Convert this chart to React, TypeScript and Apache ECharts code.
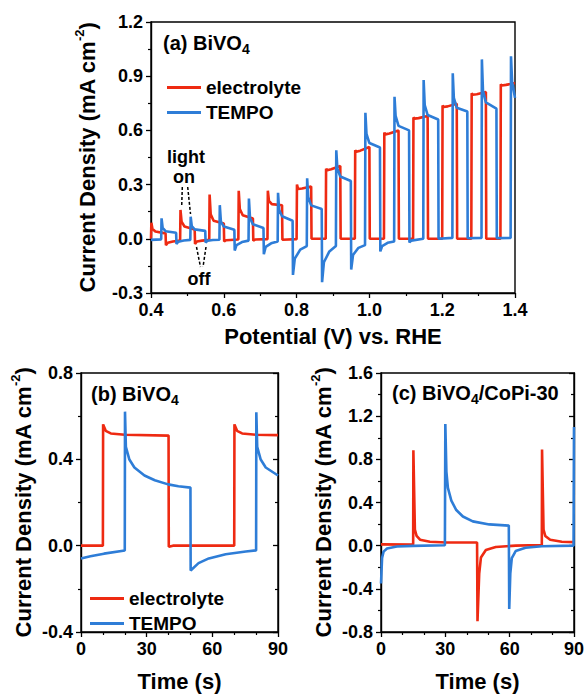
import React, { useEffect, useRef } from 'react';
import * as echarts from 'echarts';

const RED = '#EE2A12';
const BLUE = '#2E7DD7';
const FONT = '"Liberation Sans", Arial, Helvetica, sans-serif';

// ---------- axis ranges / tick labels ----------
const aX = { min: 0.4, max: 1.4, interval: 0.2 };
const aY = { min: -0.3, max: 1.2, interval: 0.3 };
const bY = { min: -0.4, max: 0.8, interval: 0.4 };
const cY = { min: -0.8, max: 1.6, interval: 0.4 };
const tX = { min: 0, max: 90, interval: 30 };

const seriesNames = ['electrolyte', 'TEMPO'];

// ---------- panel (a): chopped LSV, [potential V, current mA cm-2] ----------
const aElectrolyte: number[][] = [
  [0.400, 0.000], [0.401, 0.089], [0.404, 0.055], [0.412, 0.040], [0.440, 0.030],
  [0.441, -0.035], [0.446, -0.022], [0.460, -0.015], [0.480, -0.010],
  [0.481, 0.160], [0.484, 0.095], [0.492, 0.068], [0.520, 0.052],
  [0.521, -0.028], [0.526, -0.015], [0.540, -0.010], [0.560, -0.006],
  [0.561, 0.245], [0.564, 0.135], [0.572, 0.100], [0.600, 0.085],
  [0.601, -0.015], [0.606, -0.008], [0.640, -0.004],
  [0.641, 0.266], [0.644, 0.165], [0.652, 0.130], [0.680, 0.112],
  [0.681, -0.010], [0.686, -0.004], [0.720, -0.002],
  [0.721, 0.266], [0.724, 0.210], [0.732, 0.192], [0.760, 0.186],
  [0.761, -0.005], [0.800, -0.002],
  [0.801, 0.300], [0.804, 0.276], [0.815, 0.278], [0.840, 0.290],
  [0.841, 0.000], [0.880, 0.000],
  [0.881, 0.388], [0.884, 0.379], [0.895, 0.385], [0.920, 0.403],
  [0.921, 0.000], [0.960, 0.000],
  [0.961, 0.490], [0.964, 0.482], [0.975, 0.488], [1.000, 0.508],
  [1.001, 0.000], [1.040, 0.000],
  [1.041, 0.588], [1.044, 0.578], [1.055, 0.583], [1.080, 0.600],
  [1.081, 0.000], [1.120, 0.000],
  [1.121, 0.672], [1.124, 0.665], [1.135, 0.668], [1.160, 0.680],
  [1.161, 0.000], [1.200, 0.000],
  [1.201, 0.738], [1.204, 0.729], [1.215, 0.733], [1.240, 0.748],
  [1.241, 0.000], [1.280, 0.000],
  [1.281, 0.805], [1.284, 0.797], [1.295, 0.800], [1.320, 0.812],
  [1.321, 0.000], [1.360, 0.000],
  [1.361, 0.855], [1.364, 0.849], [1.375, 0.852], [1.400, 0.862],
];

const aTempo: number[][] = [
  [0.400, -0.006], [0.428, -0.003],
  [0.429, 0.113], [0.432, 0.060], [0.440, 0.042], [0.469, 0.033],
  [0.470, -0.028], [0.475, -0.016], [0.490, -0.009], [0.508, -0.006],
  [0.509, 0.122], [0.512, 0.070], [0.520, 0.052], [0.549, 0.044],
  [0.550, -0.020], [0.555, -0.011], [0.570, -0.007], [0.588, -0.005],
  [0.589, 0.186], [0.592, 0.095], [0.600, 0.068], [0.629, 0.050],
  [0.630, -0.065], [0.635, -0.035], [0.650, -0.018], [0.668, -0.010],
  [0.669, 0.223], [0.672, 0.115], [0.680, 0.080], [0.709, 0.060],
  [0.710, -0.085], [0.715, -0.045], [0.730, -0.025], [0.748, -0.015],
  [0.749, 0.255], [0.752, 0.160], [0.760, 0.125], [0.789, 0.100],
  [0.790, -0.200], [0.795, -0.110], [0.810, -0.060], [0.828, -0.040],
  [0.829, 0.335], [0.832, 0.230], [0.840, 0.185], [0.869, 0.165],
  [0.870, -0.240], [0.875, -0.130], [0.890, -0.070], [0.908, -0.040],
  [0.909, 0.490], [0.912, 0.390], [0.920, 0.345], [0.949, 0.320],
  [0.950, -0.170], [0.955, -0.090], [0.970, -0.050], [0.988, -0.035],
  [0.989, 0.698], [0.992, 0.580], [1.000, 0.530], [1.029, 0.505],
  [1.030, -0.070], [1.035, -0.040], [1.050, -0.022], [1.068, -0.015],
  [1.069, 0.786], [1.072, 0.680], [1.080, 0.625], [1.109, 0.600],
  [1.110, -0.020], [1.115, -0.010], [1.148, 0.000],
  [1.149, 0.879], [1.152, 0.740], [1.160, 0.685], [1.189, 0.660],
  [1.190, 0.000], [1.228, 0.005],
  [1.229, 0.916], [1.232, 0.780], [1.240, 0.725], [1.269, 0.705],
  [1.270, 0.003], [1.308, 0.005],
  [1.309, 0.993], [1.312, 0.820], [1.320, 0.755], [1.349, 0.720],
  [1.350, 0.004], [1.388, 0.005],
  [1.389, 1.010], [1.392, 0.870], [1.400, 0.780],
];

// ---------- panel (b): BiVO4 transient, [time s, current] ----------
const bElectrolyte: number[][] = [
  [0, 0.000], [10, 0.000], [10.1, 0.562], [11.3, 0.532], [13.6, 0.520], [20, 0.514], [40, 0.510],
  [40.1, -0.005], [42, 0.000], [70, 0.000],
  [70.1, 0.562], [71.3, 0.532], [73.6, 0.520], [80, 0.514], [90, 0.512],
];
const bTempo: number[][] = [
  [0, -0.059], [4.3, -0.049], [10.5, -0.037], [20, -0.022],
  [20.1, 0.621], [20.5, 0.458], [22.1, 0.399], [24.4, 0.362], [29, 0.325], [33.7, 0.303],
  [39.8, 0.284], [44.5, 0.275], [50, 0.269],
  [50.1, -0.115], [53.7, -0.081], [58.4, -0.059], [66.1, -0.040], [75.3, -0.027], [80, -0.022],
  [80.1, 0.618], [80.5, 0.458], [82.1, 0.399], [84.4, 0.362], [90, 0.325],
];

// ---------- panel (c): BiVO4/CoPi-30 transient ----------
const cElectrolyte: number[][] = [
  [0, 0.012], [15, 0.010],
  [15.1, 0.885], [15.8, 0.149], [16.6, 0.090], [18.2, 0.055], [22.8, 0.036], [30.5, 0.030], [44.8, 0.030],
  [45, -0.700], [45.8, -0.260], [46.6, -0.110], [48.9, -0.040], [53.5, -0.012], [62.8, 0.000], [75, 0.006],
  [75.1, 0.890], [75.8, 0.150], [76.6, 0.090], [78.9, 0.055], [84.3, 0.036], [90, 0.033],
];
const cTempo: number[][] = [
  [0, -0.350], [0.5, -0.115], [1.2, -0.055], [2.8, -0.026], [7.4, -0.008], [15, -0.002], [29.8, 0.004],
  [30, 1.127], [30.5, 0.684], [31.2, 0.536], [32.8, 0.418], [35.1, 0.330], [38.2, 0.270],
  [42.8, 0.225], [50.5, 0.197], [59.6, 0.186],
  [59.8, -0.587], [60.3, -0.260], [61, -0.115], [62.8, -0.050], [67.4, -0.020], [75, -0.005], [89.8, 0.000],
  [90, 1.100],
];

const labelStyle = { fontSize: 18, fontWeight: 'bold', color: '#000', fontFamily: FONT };
const nameStyle = {
  fontSize: 22, fontWeight: 'bold', color: '#000', fontFamily: FONT, lineHeight: 28,
  rich: { sup: { fontSize: 13, fontWeight: 'bold', fontFamily: FONT, color: '#000', verticalAlign: 'top', lineHeight: 13 } },
};
const axisLine = { show: true, onZero: false, lineStyle: { color: '#000', width: 1.4 } };

function xAxis(grid: number, r: any, decimals: number, name: string, gap: number) {
  return {
    gridIndex: grid, type: 'value', ...r,
    axisLine, splitLine: { show: false },
    axisTick: { show: true, length: 5, lineStyle: { color: '#000', width: 1.3 } },
    minorTick: { show: true, splitNumber: decimals > 0 ? 2 : 3, length: 3, lineStyle: { color: '#000', width: 1.2 } },
    axisLabel: { ...labelStyle, margin: 8, formatter: (v: number) => v.toFixed(decimals) },
    name, nameLocation: 'middle', nameGap: gap, nameTextStyle: nameStyle,
  };
}
function yAxis(grid: number, r: any, gap: number) {
  return {
    gridIndex: grid, type: 'value', ...r,
    axisLine, splitLine: { show: false },
    axisTick: { show: true, length: 5, lineStyle: { color: '#000', width: 1.3 } },
    minorTick: { show: true, splitNumber: 2, length: 3, lineStyle: { color: '#000', width: 1.2 } },
    axisLabel: { ...labelStyle, margin: 8, formatter: (v: number) => v.toFixed(1) },
    name: 'Current Density (mA cm{sup|-2})', nameLocation: 'middle', nameGap: gap, nameTextStyle: nameStyle,
  };
}
function rightAxis(grid: number, r: any) {
  return {
    gridIndex: grid, type: 'value', position: 'right', ...r,
    axisLine, splitLine: { show: false },
    axisTick: { show: true, inside: true, length: 5, lineStyle: { color: '#000', width: 1.3 } },
    minorTick: { show: true, splitNumber: 2, length: 3, lineStyle: { color: '#000', width: 1.2 } },
    axisLabel: { show: false },
  };
}

function line(name: string, color: string, data: number[][], xi: number, yi: number) {
  return {
    type: 'line', name, data, xAxisIndex: xi, yAxisIndex: yi,
    showSymbol: false, symbol: 'none', color,
    lineStyle: { color, width: 2.6 }, emphasis: { disabled: true }, silent: true,
  };
}

const textStyle = (size: number) => ({ fill: '#000', font: `bold ${size}px ${FONT}` });
const subRich = { sub: { fontSize: 14, fontWeight: 'bold', fontFamily: FONT, fill: '#000', verticalAlign: 'bottom', lineHeight: 14 } };

function label(text: string, x: number, y: number, size = 18, align = 'center') {
  return { type: 'text', silent: true, style: { text, x, y, align, verticalAlign: 'middle', ...textStyle(size) } };
}
function title(text: string, x: number, y: number) {
  return {
    type: 'text', silent: true,
    style: { text, x, y, align: 'left', verticalAlign: 'middle', ...textStyle(20), lineHeight: 26, rich: subRich },
  };
}
function dashed(x1: number, y1: number, x2: number, y2: number) {
  return { type: 'line', silent: true, shape: { x1, y1, x2, y2 }, style: { stroke: '#000', lineWidth: 1.5, lineDash: [3, 2] } };
}

const legendBase = {
  data: seriesNames, orient: 'vertical', icon: 'rect', itemWidth: 34, itemHeight: 3, itemGap: 6, padding: 0,
  selectedMode: false,
  textStyle: { fontSize: 19, fontWeight: 'bold', color: '#000', fontFamily: FONT },
};

const option: any = {
  animation: false,
  backgroundColor: '#fff',
  grid: [
    { left: 151, top: 22, width: 364, height: 271, show: true, borderColor: '#000', borderWidth: 1.4, backgroundColor: 'transparent' },
    { left: 81, top: 373, width: 197, height: 270, show: true, borderColor: '#000', borderWidth: 1.4, backgroundColor: 'transparent' },
    { left: 381, top: 373, width: 195, height: 270, show: true, borderColor: '#000', borderWidth: 1.4, backgroundColor: 'transparent' },
  ],
  xAxis: [
    xAxis(0, aX, 1, 'Potential (V) vs. RHE', 29),
    xAxis(1, tX, 0, 'Time (s)', 35),
    xAxis(2, tX, 0, 'Time (s)', 35),
  ],
  yAxis: [
    yAxis(0, aY, 50),
    yAxis(1, bY, 44),
    yAxis(2, cY, 44),
    rightAxis(1, bY),
    rightAxis(2, cY),
  ],
  legend: [
    { ...legendBase, left: 167, top: 78 },
    { ...legendBase, left: 90, top: 589 },
  ],
  series: [
    line('electrolyte', RED, aElectrolyte, 0, 0),
    line('TEMPO', BLUE, aTempo, 0, 0),
    line('electrolyte', RED, bElectrolyte, 1, 1),
    line('TEMPO', BLUE, bTempo, 1, 1),
    line('electrolyte', RED, cElectrolyte, 2, 2),
    line('TEMPO', BLUE, cTempo, 2, 2),
  ],
  graphic: [
    title('(a) BiVO{sub|4}', 163, 43),
    title('(b) BiVO{sub|4}', 91, 394),
    title('(c) BiVO{sub|4}/CoPi-30', 392, 393),
    label('light', 186, 157),
    label('on', 184, 177),
    label('off', 199, 278.5),
    dashed(182.3, 187, 181.7, 206),
    dashed(187.7, 187, 190.5, 214),
    dashed(196.5, 247, 200.5, 267),
    dashed(206, 247, 203, 267),
  ],
};

export default function App() {
  const ref = useRef<HTMLDivElement>(null);
  useEffect(() => {
    const chart = echarts.init(ref.current!, null, { renderer: 'svg' });
    chart.setOption(option);
    return () => chart.dispose();
  }, []);
  return <div ref={ref} style={{ position: 'absolute', left: 0, top: 0, width: 587, height: 696 }} />;
}
